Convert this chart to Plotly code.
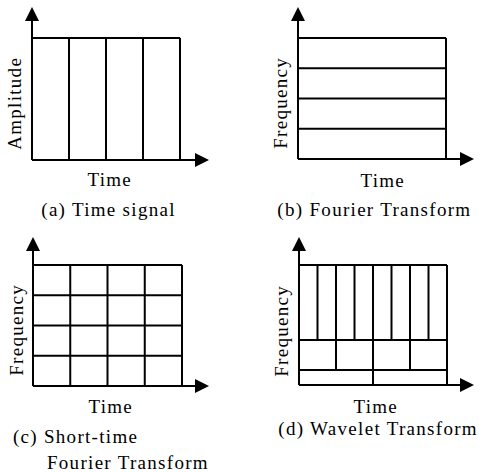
import plotly.graph_objects as go

W, H = 481, 472

# ---------------- data ----------------
# (a) Time signal: sample boundaries along time, constant amplitude box
a_time_edges = [0, 1, 2, 3, 4]
a_amplitude = [0, 1]

# (b) Fourier Transform: frequency band boundaries over the full time span
b_freq_edges = [0, 1, 2, 3, 4]
b_time_span = [0, 4]

# (c) Short-time Fourier Transform: uniform tiling
c_time_edges = [0, 1, 2, 3, 4]
c_freq_edges = [0, 1, 2, 3, 4]

# (d) Wavelet Transform: frequency bands and time boundaries in each band
d_freq_edges = [0, 1, 3, 8]
d_band_time_edges = [
    [0, 2, 4],
    [0, 1, 2, 3, 4],
    [0, 0.5, 1, 1.5, 2, 2.5, 3, 3.5, 4],
]

x_labels = ["Time", "Time", "Time", "Time"]
y_labels = ["Amplitude", "Frequency", "Frequency", "Frequency"]
captions = ["(a) Time signal", "(b) Fourier Transform",
            "(c) Short-time", "(d) Wavelet Transform"]
caption_c2 = "Fourier Transform"

# ---------------- layout geometry (pixels) ----------------
# origin x, origin y, px per x unit, px per y unit, arrow tip x, arrow tip y
panels = [
    dict(ox=32, oy=160, sx=37.0, sy=122.0, tx=209, ty=7),
    dict(ox=298, oy=159, sx=37.0, sy=30.25, tx=474, ty=7),
    dict(ox=33, oy=386, sx=37.25, sy=30.25, tx=209, ty=237),
    dict(ox=299, oy=385, sx=37.0, sy=15.0, tx=474, ty=237),
]

LINE = dict(color="black", width=2)
fig = go.Figure()
layout = dict(width=W, height=H, margin=dict(l=0, r=0, t=0, b=0),
              paper_bgcolor="white", plot_bgcolor="white", showlegend=False)

annotations = []
FONT = dict(family="Liberation Serif, Times New Roman, serif", size=19, color="black")


def seg_trace(xs, ys, i):
    sfx = "" if i == 0 else str(i + 1)
    return go.Scatter(x=xs, y=ys, mode="lines", line=LINE, hoverinfo="skip",
                      xaxis="x" + sfx, yaxis="y" + sfx)


for i, p in enumerate(panels):
    sfx = "" if i == 0 else str(i + 1)
    left, right = p["ox"] - 6, p["tx"] + 4
    top, bottom = p["ty"] - 4, p["oy"] + 6
    layout["xaxis" + sfx] = dict(
        domain=[left / W, right / W],
        range=[(left - p["ox"]) / p["sx"], (right - p["ox"]) / p["sx"]],
        visible=False, fixedrange=True,
        anchor="y" + sfx)
    layout["yaxis" + sfx] = dict(
        domain=[(H - bottom) / H, (H - top) / H],
        range=[(p["oy"] - bottom) / p["sy"], (p["oy"] - top) / p["sy"]],
        visible=False, fixedrange=True,
        anchor="x" + sfx)
    xr = "x" + sfx
    yr = "y" + sfx
    # axis arrows
    tipx = (p["tx"] - p["ox"]) / p["sx"]
    tipy = (p["oy"] - p["ty"]) / p["sy"]
    for (x, y) in [(tipx, 0), (0, tipy)]:
        annotations.append(dict(x=x, y=y, ax=0, ay=0, xref=xr, yref=yr,
                                axref=xr, ayref=yr, text="", showarrow=True,
                                arrowhead=2, arrowsize=1.4, arrowwidth=2,
                                arrowcolor="black", standoff=0, startstandoff=0))

# (a)
xs, ys = [], []
for t in a_time_edges:
    xs += [t, t, None]
    ys += [a_amplitude[0], a_amplitude[1], None]
xs += [a_time_edges[0], a_time_edges[-1], None, a_time_edges[0], a_time_edges[-1]]
ys += [a_amplitude[1], a_amplitude[1], None, a_amplitude[0], a_amplitude[0]]
fig.add_trace(seg_trace(xs, ys, 0))

# (b)
xs, ys = [], []
for f in b_freq_edges:
    xs += [b_time_span[0], b_time_span[1], None]
    ys += [f, f, None]
for t in b_time_span:
    xs += [t, t, None]
    ys += [b_freq_edges[0], b_freq_edges[-1], None]
fig.add_trace(seg_trace(xs, ys, 1))

# (c)
xs, ys = [], []
for f in c_freq_edges:
    xs += [c_time_edges[0], c_time_edges[-1], None]
    ys += [f, f, None]
for t in c_time_edges:
    xs += [t, t, None]
    ys += [c_freq_edges[0], c_freq_edges[-1], None]
fig.add_trace(seg_trace(xs, ys, 2))

# (d)
xs, ys = [], []
for f in d_freq_edges:
    xs += [d_band_time_edges[-1][0], d_band_time_edges[-1][-1], None]
    ys += [f, f, None]
for b, edges in enumerate(d_band_time_edges):
    for t in edges:
        xs += [t, t, None]
        ys += [d_freq_edges[b], d_freq_edges[b + 1], None]
fig.add_trace(seg_trace(xs, ys, 3))


def label(text, px, py, angle=0, xanchor="center"):
    annotations.append(dict(text=text, x=px / W, y=1 - py / H, xref="paper",
                            yref="paper", showarrow=False, font=FONT,
                            textangle=angle, xanchor=xanchor, yanchor="middle"))


# axis titles
label(x_labels[0], 109, 179)
label(x_labels[1], 382, 180)
label(x_labels[2], 110, 406)
label(x_labels[3], 375, 406)
label(y_labels[0], 15, 104, -90)
label(y_labels[1], 281, 103, -90)
label(y_labels[2], 16, 330, -90)
label(y_labels[3], 281, 331, -90)
# captions
label(captions[0], 108, 210)
label(captions[1], 374, 210)
label(captions[2], 20, 437, xanchor="left")
label(caption_c2, 56, 462, xanchor="left")
label(captions[3], 378, 429)

layout["annotations"] = annotations
fig.update_layout(**layout)

post = ("document.querySelectorAll('.annotation-text').forEach(function(t){"
        "t.style.letterSpacing='1.3px';});")
fig.write_html("out.html", post_script=post)
